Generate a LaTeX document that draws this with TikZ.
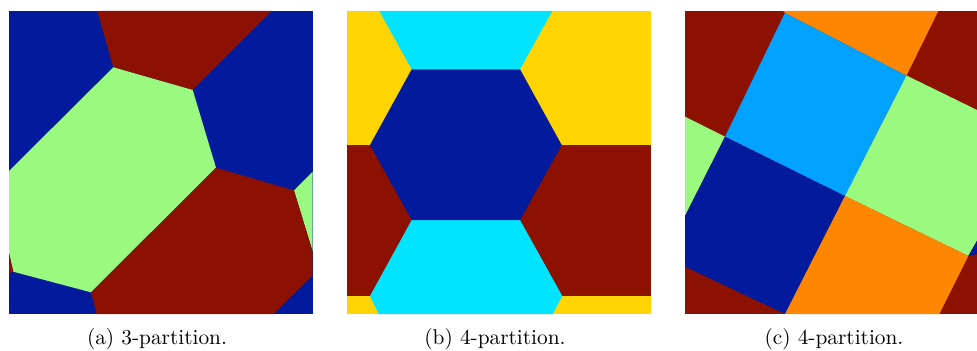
\documentclass[tikz,border=0pt]{standalone}
\usepackage{xcolor}
\usepackage{tikz}
\usetikzlibrary{positioning}
\definecolor{partblue}{HTML}{021B9C}
\definecolor{partred}{HTML}{8C1100}
\definecolor{partgreen}{HTML}{9AFA80}
\definecolor{partyellow}{HTML}{FFD400}
\definecolor{partcyan}{HTML}{00E4FF}
\definecolor{partsky}{HTML}{00A2FF}
\definecolor{partorange}{HTML}{FF8600}
\tikzset{
  subcap/.style={anchor=base, inner sep=0pt, font=\fontsize{9.6}{11.5}\selectfont},
  cell/.style={line join=round},
}
\begin{document}
\begin{tikzpicture}[x=0.45pt, y=-0.45pt]
  \useasboundingbox (0,0) rectangle (977,350);
  % (a) 3-partition
  \fill[partblue] (9,11) rectangle (312.7,314);
  \fill[cell,partred] (97.3,11) -- (113.3,67.3) -- (192.7,90) -- (271.7,11) -- cycle;
  \fill[cell,partgreen] (113.3,67.3) -- (192.7,90) -- (216,167.7) -- (91,292.3) -- (13.3,271.7) -- (9,253.3) -- (9,171) -- cycle;
  \fill[cell,partred] (9,253.3) -- (13.3,271.7) -- (9,273.3) -- cycle;
  \fill[cell,partgreen] (294,190.5) -- (312.7,171.7) -- (312.7,251.7) -- cycle;
  \fill[cell,partred] (216,167.7) -- (294,190.5) -- (312.7,251.7) -- (312.7,275) -- (273.3,314) -- (96.7,314) -- (91,292.3) -- cycle;
  % (b) 4-partition
  \fill[partyellow] (347,11) rectangle (650.7,314);
  \fill[partred] (347,145) rectangle (650.7,296);
  \fill[cell,partcyan] (379.3,11) -- (552.3,11) -- (520,69.3) -- (411.7,69.3) -- cycle;
  \fill[cell,partcyan] (411.7,220) -- (520,220) -- (562.3,296) -- (552.7,314) -- (378.7,314) -- (370,296) -- cycle;
  \fill[cell,partblue] (411.7,69.3) -- (520,69.3) -- (561.7,145) -- (520,220) -- (411.7,220) -- (370,145) -- cycle;
  % (c) 4-partition
  \begin{scope}
    \clip (685,11) rectangle (977,314);
    \fill[partred] (685,11) rectangle (977,314);
    \fill[cell,partsky] (785,12.7) -- (906.5,75.5) -- (845,196) -- (725,136.7) -- cycle;
    \fill[cell,partorange] (783,11) -- (938.3,11) -- (906.5,75.5) -- (785,12.7) -- cycle;
    \fill[cell,partgreen] (906.5,75.5) -- (977,110) -- (977,240.7) -- (968.3,256) -- (845,196) -- cycle;
    \fill[cell,partgreen] (685,116.7) -- (725,136.7) -- (685,216) -- cycle;
    \fill[cell,partblue] (725,136.7) -- (845,196) -- (785,314) -- (685,266.7) -- (685,216) -- cycle;
    \fill[cell,partorange] (845,196) -- (968.3,256) -- (939.3,314) -- (785,314) -- cycle;
    \fill[cell,partblue] (968.3,256) -- (977,240.7) -- (977,254) -- cycle;
  \end{scope}
  % captions
  \node[subcap] (capa) at (157,344) {(a) 3-partition.};
  \node[subcap] (capb) at (495,344) {(b) 4-partition.};
  \node[subcap] (capc) at (834,344) {(c) 4-partition.};
\end{tikzpicture}
\end{document}
